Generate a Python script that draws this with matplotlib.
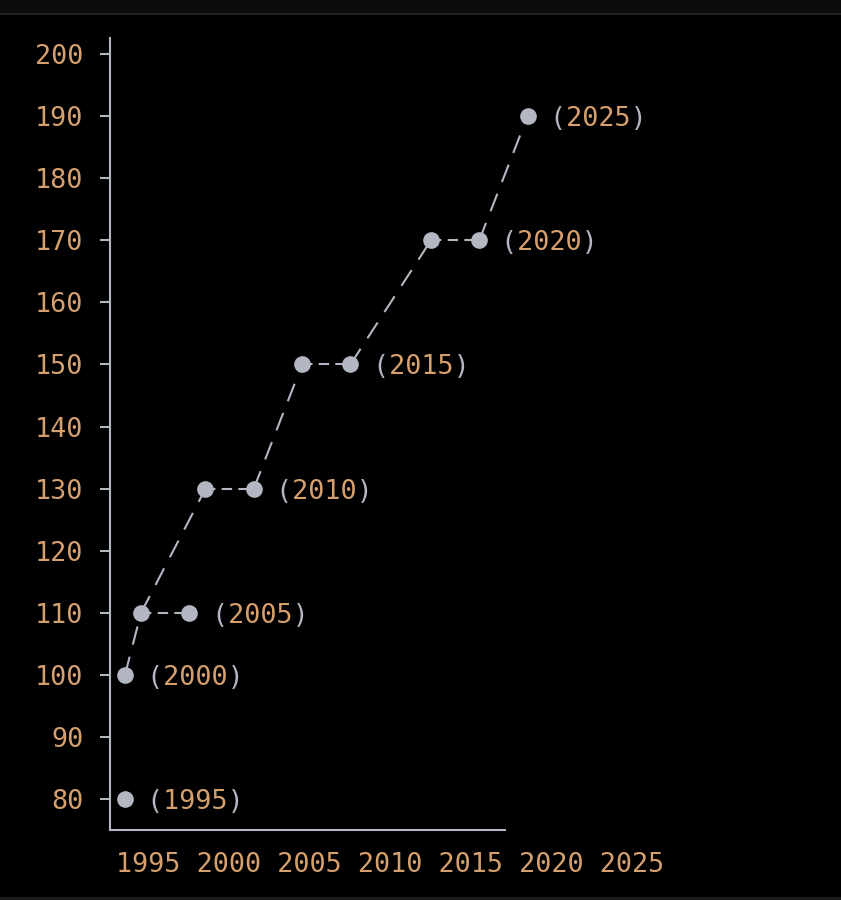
import matplotlib
matplotlib.use("Agg")
import matplotlib.pyplot as plt
from matplotlib.patches import Rectangle

# ---- data (character-grid column, value) ----
point_cols = [0, 0, 1, 4, 5, 8, 11, 14, 19, 22, 25]
point_vals = [80, 100, 110, 110, 130, 130, 150, 150, 170, 170, 190]
point_labels = ["1995", "2000", "", "2005", "", "2010", "", "2015", "", "2020", "2025"]
diag_links = [(1, 2), (2, 4), (5, 6), (7, 8), (9, 10)]
flat_links = [(2, 3), (4, 5), (6, 7), (8, 9)]
y_ticks = [80, 90, 100, 110, 120, 130, 140, 150, 160, 170, 180, 190, 200]
x_tick_labels = ["1995", "2000", "2005", "2010", "2015", "2020", "2025"]

GRAY = "#b3b7c2"
ORANGE = "#d6a06e"
MONO = "DejaVu Sans Mono"
FS = 19.3

fig = plt.figure(figsize=(8.41, 9.0), dpi=100)
fig.patch.set_facecolor("black")
# top bar
fig.add_artist(Rectangle((0, 1 - 13 / 900), 1, 13 / 900, transform=fig.transFigure,
                         facecolor="#0c0c0c", edgecolor="none"))
fig.add_artist(Rectangle((0, 1 - 15 / 900), 1, 2 / 900, transform=fig.transFigure,
                         facecolor="#232323", edgecolor="none"))
fig.add_artist(Rectangle((0, 0), 1, 3 / 900, transform=fig.transFigure,
                         facecolor="#1c1c1c", edgecolor="none"))

ax = fig.add_axes([110 / 841, 1 - 830 / 900, (505 - 110) / 841, (830 - 38) / 900])
ax.set_facecolor("black")
ax.set_xlim(-0.93, 23.6)
ax.set_ylim(75.0, 202.6)

for s in ["top", "right"]:
    ax.spines[s].set_visible(False)
for s in ["left", "bottom"]:
    ax.spines[s].set_color(GRAY)
    ax.spines[s].set_linewidth(1.5)

ax.set_yticks(y_ticks)
ax.set_yticklabels([str(v) for v in y_ticks], fontfamily=MONO, fontsize=FS, color=ORANGE)
ax.tick_params(axis="y", length=7, width=1.5, color=GRAY, pad=12)
ax.set_xticks([])

# lines
for a, b in diag_links:
    ax.plot([point_cols[a], point_cols[b]], [point_vals[a], point_vals[b]],
            color=GRAY, lw=1.5, dashes=(9, 6), clip_on=False, zorder=2,
            dash_capstyle="butt")
for a, b in flat_links:
    ax.plot([point_cols[a], point_cols[b]], [point_vals[a], point_vals[b]],
            color=GRAY, lw=1.5, dashes=(5, 3), clip_on=False, zorder=2,
            dash_capstyle="butt")

# markers
ax.plot(point_cols, point_vals, linestyle="none", marker="o", markersize=12,
        color=GRAY, markeredgewidth=0, clip_on=False, zorder=3)

# labels
for c, v, lab in zip(point_cols, point_vals, point_labels):
    if not lab:
        continue
    gray_txt = "(" + " " * len(lab) + ")"
    or_txt = " " + lab + " "
    for t, col in [(gray_txt, GRAY), (or_txt, ORANGE)]:
        ax.annotate(t, (c, v), xytext=(16, 0), textcoords="offset points",
                    ha="left", va="center_baseline", fontfamily=MONO, fontsize=FS,
                    color=col, annotation_clip=False)

# x labels (text row below the axis)
ax.text(116 / 841, 1 - 862 / 900, " ".join(x_tick_labels), transform=fig.transFigure,
        ha="left", va="center_baseline", fontfamily=MONO, fontsize=FS, color=ORANGE)

fig.savefig("out.png", dpi=100, facecolor="black")
